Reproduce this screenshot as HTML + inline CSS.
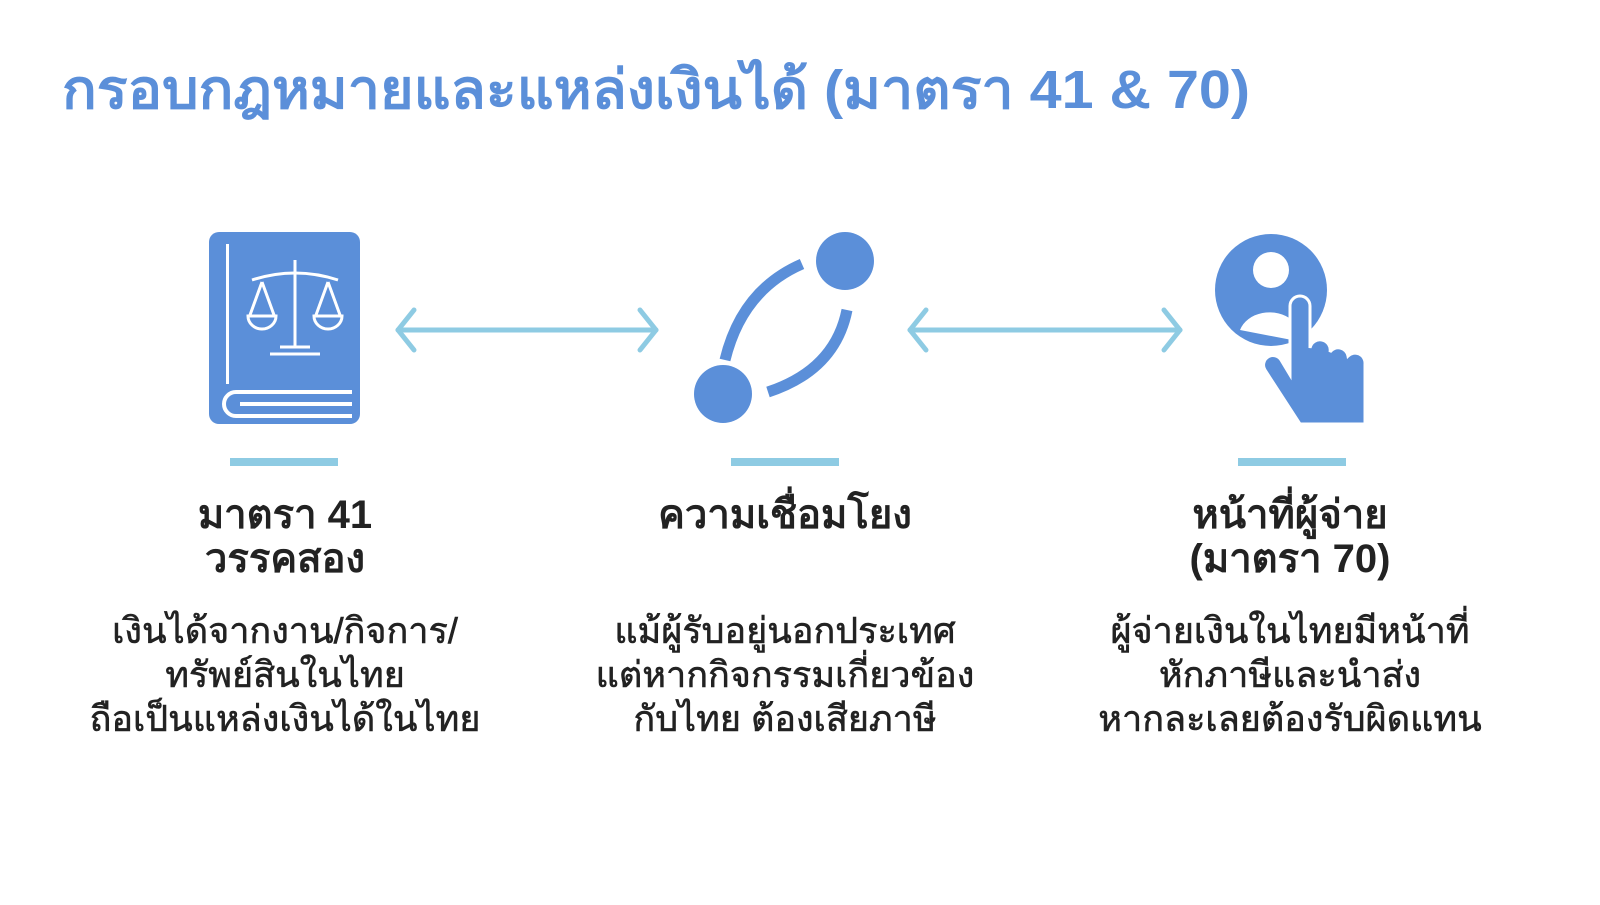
<!DOCTYPE html>
<html><head><meta charset="utf-8"><style>
body{margin:0;background:#fff;width:1600px;height:900px;overflow:hidden;font-family:"Liberation Sans","DejaVu Sans",sans-serif}
</style></head><body>
<svg width="1600" height="900" xmlns="http://www.w3.org/2000/svg" font-family="Liberation Sans, DejaVu Sans, sans-serif">
<rect width="1600" height="900" fill="#fff"/>
<text x="62" y="108" font-size="54" font-weight="bold" fill="#5b8fd9" textLength="1188" lengthAdjust="spacingAndGlyphs">กรอบกฎหมายและแหล่งเงินได้ (มาตรา 41 &amp; 70)</text>
<!-- book -->
<rect x="209" y="232" width="151" height="192" rx="10" fill="#5b8fd9"/>
<rect x="226" y="244" width="3" height="140" fill="#fff"/>
<path d="M352 392 H236 a12 12 0 0 0 0 24 H352" fill="none" stroke="#fff" stroke-width="4"/>
<line x1="240" y1="404" x2="352" y2="404" stroke="#fff" stroke-width="4"/>
<g stroke="#fff" stroke-width="3" fill="none">
<line x1="295" y1="260" x2="295" y2="348"/>
<path d="M252 280 Q295 266 338 280"/>
<line x1="262" y1="282" x2="250" y2="315"/><line x1="262" y1="282" x2="274" y2="315"/>
<line x1="328" y1="282" x2="316" y2="315"/><line x1="328" y1="282" x2="340" y2="315"/>
<path d="M248 316 a14 13 0 0 0 28 0 Z"/><path d="M314 316 a14 13 0 0 0 28 0 Z"/>
<path d="M270 354 H320 M280 347 H310"/>
</g>
<!-- arrows -->
<g stroke="#8ecbe3" stroke-width="5" fill="none" stroke-linecap="round" stroke-linejoin="round">
<line x1="398" y1="330" x2="656" y2="330"/><path d="M414 310 L398 330 L414 350"/><path d="M640 310 L656 330 L640 350"/>
<line x1="910" y1="330" x2="1180" y2="330"/><path d="M926 310 L910 330 L926 350"/><path d="M1164 310 L1180 330 L1164 350"/>
</g>
<!-- link icon -->
<circle cx="845" cy="261" r="29" fill="#5b8fd9"/>
<circle cx="723" cy="394" r="29" fill="#5b8fd9"/>
<path d="M802 264 Q742 290 725 360" fill="none" stroke="#5b8fd9" stroke-width="11"/>
<path d="M847 310 Q835 370 768 392" fill="none" stroke="#5b8fd9" stroke-width="11"/>
<!-- person hand -->
<circle cx="1271" cy="290" r="56" fill="#5b8fd9"/>
<circle cx="1271" cy="270" r="18" fill="#fff"/>
<path d="M1240 330 a31 25 0 0 1 52 -10 L1292 340 Z" fill="#fff"/>
<path d="M1290 306 a10 10 0 0 1 20 0 V348 a10 10 0 0 1 20 4 a10 10 0 0 1 18 4 a10 10 0 0 1 17 8 V424 H1300 L1265 370 a9 9 0 0 1 16 -10 L1290 375 Z" fill="#5b8fd9" stroke="#fff" stroke-width="3"/>
<!-- bars -->
<g fill="#8ecbe3"><rect x="230" y="458" width="108" height="8"/><rect x="731" y="458" width="108" height="8"/><rect x="1238" y="458" width="108" height="8"/></g>
<g font-size="40" font-weight="bold" fill="#222" text-anchor="middle">
<text x="285" y="528">มาตรา 41</text><text x="285" y="572">วรรคสอง</text>
<text x="785" y="528">ความเชื่อมโยง</text>
<text x="1290" y="528">หน้าที่ผู้จ่าย</text><text x="1290" y="572">(มาตรา 70)</text>
</g>
<g font-size="36" fill="#222" text-anchor="middle" stroke="#222" stroke-width="0.6">
<text x="285" y="643">เงินได้จากงาน/กิจการ/</text><text x="285" y="687">ทรัพย์สินในไทย</text><text x="285" y="731">ถือเป็นแหล่งเงินได้ในไทย</text>
<text x="785" y="643">แม้ผู้รับอยู่นอกประเทศ</text><text x="785" y="687">แต่หากกิจกรรมเกี่ยวข้อง</text><text x="785" y="731">กับไทย ต้องเสียภาษี</text>
<text x="1290" y="643">ผู้จ่ายเงินในไทยมีหน้าที่</text><text x="1290" y="687">หักภาษีและนำส่ง</text><text x="1290" y="731">หากละเลยต้องรับผิดแทน</text>
</g>
</svg>
</body></html>
